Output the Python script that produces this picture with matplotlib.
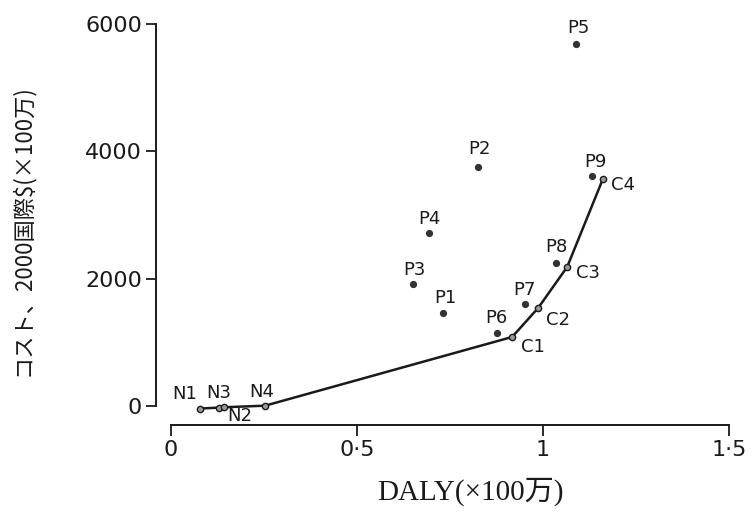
import matplotlib
matplotlib.use("Agg")
import matplotlib.pyplot as plt

# Curve (non-dominated options)
curve_labels = ["N1", "N3", "N2", "N4", "C1", "C2", "C3", "C4"]
curve_x = [0.078, 0.129, 0.142, 0.253, 0.917, 0.987, 1.065, 1.161]
curve_y = [-40, -25, -20, 5, 1084, 1540, 2184, 3566]

# Other points
pt_labels = ["P1", "P2", "P3", "P4", "P5", "P6", "P7", "P8", "P9"]
pt_x = [0.731, 0.825, 0.651, 0.694, 1.089, 0.876, 0.952, 1.035, 1.132]
pt_y = [1461, 3755, 1917, 2718, 5687, 1147, 1602, 2247, 3613]

xticks = [0, 0.5, 1, 1.5]
xticklabels = ["0", "0·5", "1", "1·5"]
yticks = [0, 2000, 4000, 6000]
yticklabels = ["0", "2000", "4000", "6000"]

# label offsets in pixels (dx, dy)
curve_offsets = {"N1": (-15, 15), "N3": (0, 15), "N2": (16, -9), "N4": (-3, 14),
                 "C1": (21, -10), "C2": (20, -12), "C3": (21, -6), "C4": (20, -6)}
pt_offsets = {"P1": (2, 15), "P2": (2, 18), "P3": (1, 14), "P4": (0, 14), "P5": (2, 16),
              "P6": (0, 15), "P7": (-1, 14), "P8": (0, 16), "P9": (3, 14)}

W, H = 753, 515
fig = plt.figure(figsize=(W / 100, H / 100), dpi=100)
ax = fig.add_axes([171 / W, (H - 406) / H, 558 / W, 382 / H])

ink = "#1a1a1a"
ax.plot(curve_x, curve_y, color=ink, lw=1.8, zorder=2, clip_on=False)
ax.plot(curve_x, curve_y, ls="none", marker="o", ms=4.5, mfc="#9a9a9a", mec=ink,
        mew=1.0, zorder=3, clip_on=False)
ax.plot(pt_x, pt_y, ls="none", marker="o", ms=4.2, mfc="#333333", mec="#333333",
        zorder=3, clip_on=False)

lab_font = dict(fontsize=13, family="DejaVu Sans", color=ink, ha="center", va="center",
                annotation_clip=False)
for lbl, x, y in zip(curve_labels, curve_x, curve_y):
    dx, dy = curve_offsets[lbl]
    ax.annotate(lbl, (x, y), xytext=(dx, dy), textcoords="offset pixels", **lab_font)
for lbl, x, y in zip(pt_labels, pt_x, pt_y):
    dx, dy = pt_offsets[lbl]
    ax.annotate(lbl, (x, y), xytext=(dx, dy), textcoords="offset pixels", **lab_font)

ax.set_xlim(0, 1.5)
ax.set_ylim(0, 6000)
ax.set_xticks(xticks)
ax.set_xticklabels(xticklabels)
ax.set_yticks(yticks)
ax.set_yticklabels(yticklabels)

for s in ["top", "right"]:
    ax.spines[s].set_visible(False)
ax.spines["left"].set_position(("outward", 10.8))
ax.spines["bottom"].set_position(("outward", 13.7))
ax.spines["left"].set_bounds(0, 6000)
ax.spines["bottom"].set_bounds(0, 1.5)
for s in ["left", "bottom"]:
    ax.spines[s].set_linewidth(1.4)
    ax.spines[s].set_color(ink)

ax.tick_params(axis="x", direction="out", length=8, width=1.3, pad=3, labelsize=16,
               colors=ink)
ax.tick_params(axis="y", direction="out", length=7, width=1.3, pad=3, labelsize=16,
               colors=ink)
ax.patch.set_visible(False)

ax.set_xlabel("DALY(×100万)", fontsize=21, family=["Liberation Serif", "Noto Sans CJK JP"],
              color=ink)
ax.xaxis.set_label_coords((470 - 171) / 558, (406 - 478) / 382)
ax.set_ylabel("コスト、2000国際$(×100万)", fontsize=16,
              family=["Noto Sans CJK JP", "Liberation Serif"], color=ink)
ax.yaxis.set_label_coords((34 - 171) / 558, (406 - 230) / 382)

fig.savefig("out.png", dpi=100)
